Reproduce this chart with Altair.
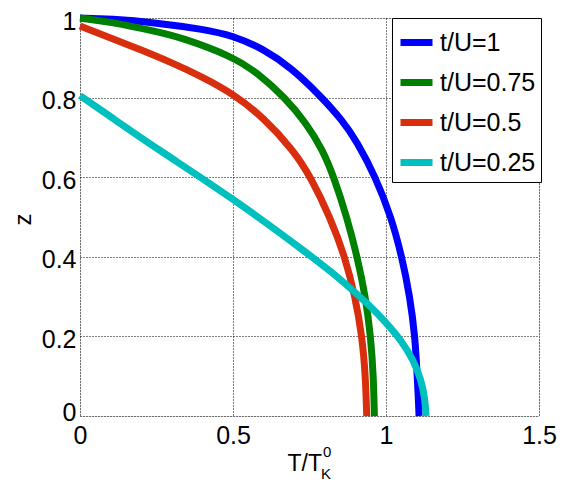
import altair as alt
import pandas as pd

# --- data ---
blue_T = [0.0, 0.10, 0.25, 0.40, 0.50, 0.60, 0.69, 0.785, 0.855, 0.905, 0.966, 1.017, 1.052, 1.078, 1.095, 1.102, 1.106, 1.108]
blue_z = [1.0, 0.998, 0.988, 0.972, 0.956, 0.922, 0.875, 0.805, 0.745, 0.69, 0.60, 0.50, 0.40, 0.30, 0.20, 0.10, 0.04, 0.0]

green_T = [0.0, 0.10, 0.25, 0.327, 0.50, 0.58, 0.67, 0.74, 0.792, 0.83, 0.872, 0.906, 0.933, 0.950, 0.959, 0.962]
green_z = [1.0, 0.99, 0.966, 0.952, 0.903, 0.862, 0.80, 0.735, 0.67, 0.60, 0.50, 0.40, 0.30, 0.20, 0.10, 0.0]

red_T = [0.0, 0.10, 0.20, 0.30, 0.40, 0.50, 0.60, 0.70, 0.754, 0.817, 0.866, 0.899, 0.922, 0.933, 0.937]
red_z = [0.98, 0.95, 0.92, 0.888, 0.852, 0.81, 0.75, 0.665, 0.60, 0.50, 0.40, 0.30, 0.20, 0.10, 0.0]

cyan_T = [0.0, 0.10, 0.25, 0.50, 0.75, 0.85, 0.95, 1.0, 1.05, 1.09, 1.115, 1.127, 1.131]
cyan_z = [0.805, 0.752, 0.672, 0.547, 0.405, 0.345, 0.275, 0.235, 0.190, 0.140, 0.090, 0.045, 0.0]

series_names = ["t/U=1", "t/U=0.75", "t/U=0.5", "t/U=0.25"]
series_colors = ["#0000FF", "#008000", "#D92E0E", "#00BFBF"]
x_ticks = [0, 0.5, 1, 1.5]
y_ticks = [0, 0.2, 0.4, 0.6, 0.8, 1]

all_T = [blue_T, green_T, red_T, cyan_T]
all_z = [blue_z, green_z, red_z, cyan_z]

frames = []
for name, T, z in zip(series_names, all_T, all_z):
    frames.append(pd.DataFrame({"T": T, "z": z, "series": name, "i": range(len(T))}))

FONT = "Liberation Sans"

color_scale = alt.Scale(domain=series_names, range=series_colors)

layers = []
for k, df in enumerate(frames):
    layers.append(
        alt.Chart(df).mark_line(strokeWidth=7, interpolate="basis").encode(
            x=alt.X("T:Q", scale=alt.Scale(domain=[0, 1.5], nice=False),
                    axis=alt.Axis(values=x_ticks, format="~g", title=None,
                                  grid=True, gridColor="black", gridDash=[1, 2],
                                  gridOpacity=1, gridWidth=1,
                                  ticks=False, domain=False, labelFlush=False,
                                  labelFontSize=25, labelFont=FONT, labelColor="black",
                                  labelPadding=7)),
            y=alt.Y("z:Q", scale=alt.Scale(domain=[0, 1], nice=False),
                    axis=alt.Axis(values=y_ticks, format="~g", title="z",
                                  grid=True, gridColor="black", gridDash=[1, 2],
                                  gridOpacity=1, gridWidth=1,
                                  ticks=False, domain=False, labelFlush=False,
                                  labelFontSize=25, labelFont=FONT, labelColor="black",
                                  labelPadding=4,
                                  labelOffset=alt.condition("datum.value == 0", alt.value(-4), alt.value(3)),
                                  titleFont=FONT, titleFontSize=24, titleFontWeight="normal",
                                  titleColor="black", titleAngle=-90,
                                  titleAlign="center", titleBaseline="middle",
                                  titleX=-57, titleY=201)),
            color=alt.Color("series:N", scale=color_scale,
                            legend=alt.Legend(title=None, orient="none",
                                              legendX=312, legendY=0,
                                              symbolType="stroke", symbolSize=1024,
                                              symbolStrokeWidth=7,
                                              labelFont=FONT, labelFontSize=25,
                                              labelColor="black", labelOffset=4,
                                              rowPadding=6, padding=5,
                                              strokeColor="black", fillColor="white",
                                              cornerRadius=0)),
            order="i:Q",
        )
    )

blank = alt.Data(values=[{}])
title_main = alt.Chart(blank).mark_text(
    text="T/T", font=FONT, fontSize=23, align="right", baseline="alphabetic", color="black"
).encode(x=alt.value(242), y=alt.value(453))
title_sup = alt.Chart(blank).mark_text(
    text="0", font=FONT, fontSize=15, align="left", baseline="alphabetic", color="black"
).encode(x=alt.value(243), y=alt.value(439))
title_sub = alt.Chart(blank).mark_text(
    text="K", font=FONT, fontSize=15, align="left", baseline="alphabetic", color="black"
).encode(x=alt.value(241), y=alt.value(461))

chart = alt.layer(*layers, title_main, title_sup, title_sub).properties(
    width=459, height=398,
    autosize=alt.AutoSizeParams(type="none"),
    padding={"left": 72, "top": 10, "right": 28, "bottom": 66},
).configure_view(stroke="black", strokeWidth=1.5).configure(background="white")

chart.save("out.html", embed_options={"renderer": "svg", "actions": False})
